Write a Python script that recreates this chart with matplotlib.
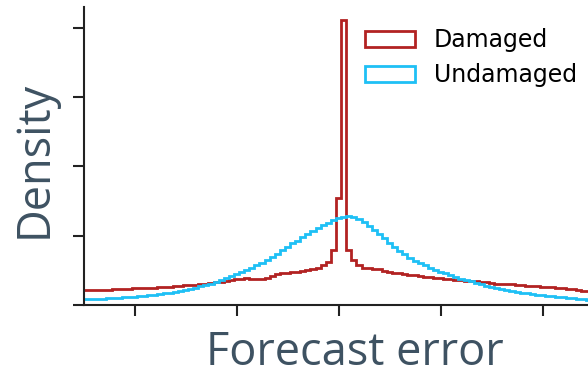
import numpy as np
import matplotlib
matplotlib.use("Agg")
import matplotlib.pyplot as plt

# ---- data ----
bin_start = -2.53
bin_width = 0.05
n_bins = 100

undamaged = [
    0.080, 0.083, 0.086, 0.089, 0.093, 0.097, 0.101, 0.105, 0.110, 0.115,
    0.121, 0.127, 0.134, 0.141, 0.149, 0.157, 0.166, 0.176, 0.187, 0.202,
    0.220, 0.235, 0.250, 0.268, 0.288, 0.310, 0.335, 0.360, 0.390, 0.420,
    0.450, 0.480, 0.510, 0.540, 0.575, 0.610, 0.650, 0.690, 0.740, 0.790,
    0.840, 0.890, 0.930, 0.980, 1.030, 1.070, 1.110, 1.150, 1.190, 1.220,
    1.250, 1.270, 1.285, 1.265, 1.235, 1.195, 1.140, 1.080, 1.020, 0.960,
    0.900, 0.840, 0.780, 0.730, 0.680, 0.640, 0.600, 0.570, 0.540, 0.510,
    0.480, 0.455, 0.430, 0.405, 0.380, 0.360, 0.340, 0.320, 0.300, 0.280,
    0.265, 0.250, 0.235, 0.220, 0.205, 0.192, 0.180, 0.168, 0.158, 0.148,
    0.139, 0.131, 0.124, 0.117, 0.110, 0.103, 0.096, 0.090, 0.084, 0.078,
]

damaged = [
    0.210, 0.210, 0.215, 0.220, 0.215, 0.220, 0.225, 0.230, 0.230, 0.235,
    0.240, 0.240, 0.245, 0.250, 0.250, 0.255, 0.260, 0.265, 0.270, 0.275,
    0.285, 0.290, 0.295, 0.300, 0.310, 0.320, 0.330, 0.335, 0.345, 0.355,
    0.370, 0.375, 0.385, 0.380, 0.375, 0.370, 0.390, 0.420, 0.445, 0.455,
    0.465, 0.475, 0.480, 0.490, 0.505, 0.520, 0.540, 0.580, 0.620, 0.800,
    1.540, 4.110, 0.800, 0.650, 0.570, 0.540, 0.530, 0.525, 0.520, 0.490,
    0.480, 0.465, 0.460, 0.450, 0.440, 0.430, 0.420, 0.410, 0.400, 0.390,
    0.385, 0.375, 0.370, 0.365, 0.355, 0.350, 0.345, 0.340, 0.330, 0.325,
    0.315, 0.310, 0.310, 0.305, 0.300, 0.295, 0.285, 0.280, 0.275, 0.270,
    0.265, 0.260, 0.255, 0.245, 0.240, 0.235, 0.225, 0.215, 0.205, 0.195,
]

series_labels = ["Damaged", "Undamaged"]
x_ticks = [-2, -1, 0, 1, 2]
y_ticks = [0, 1, 2, 3, 4]
x_label = "Forecast error"
y_label = "Density"

# ---- figure ----
edges = bin_start + bin_width * np.arange(n_bins + 1)
centers = 0.5 * (edges[:-1] + edges[1:])

fig = plt.figure(figsize=(5.88, 3.75), dpi=100)
ax = fig.add_axes([84 / 588, 70 / 375, 504 / 588, 298 / 375])

red = "#b22222"
blue = "#1ec0f5"
ax.hist(centers, bins=edges, weights=damaged, histtype="step",
        color=red, linewidth=2.0, label=series_labels[0])
ax.hist(centers, bins=edges, weights=undamaged, histtype="step",
        color=blue, linewidth=2.0, label=series_labels[1])

ax.set_xlim(-2.5, 2.44)
ax.set_ylim(0, 4.3)
ax.set_xticks(x_ticks)
ax.set_yticks(y_ticks)
ax.set_xticklabels([])
ax.set_yticklabels([])
ax.tick_params(direction="out", length=8, width=1.5, color="#222222")

for side in ["top", "right"]:
    ax.spines[side].set_visible(False)
for side in ["left", "bottom"]:
    ax.spines[side].set_linewidth(1.5)
    ax.spines[side].set_color("#222222")

label_color = "#3e5262"
ax.set_xlabel(x_label, fontsize=32.5, family="Open Sans", color=label_color)
ax.set_ylabel(y_label, fontsize=32.5, family="Open Sans", color=label_color)
ax.xaxis.set_label_coords((355 - 84) / 504, -(330 - 305) / 298)
ax.xaxis.label.set_va("top")
ax.yaxis.set_label_coords(-(84 - 58) / 504, 0.49)

leg = ax.legend(loc="upper left", bbox_to_anchor=(356 / 588, 1 - 19 / 375),
                bbox_transform=fig.transFigure, frameon=False, fontsize=17,
                labelspacing=0.45, handlelength=2.1, handletextpad=0.8,
                borderaxespad=0)

fig.savefig("out.png", dpi=100)
